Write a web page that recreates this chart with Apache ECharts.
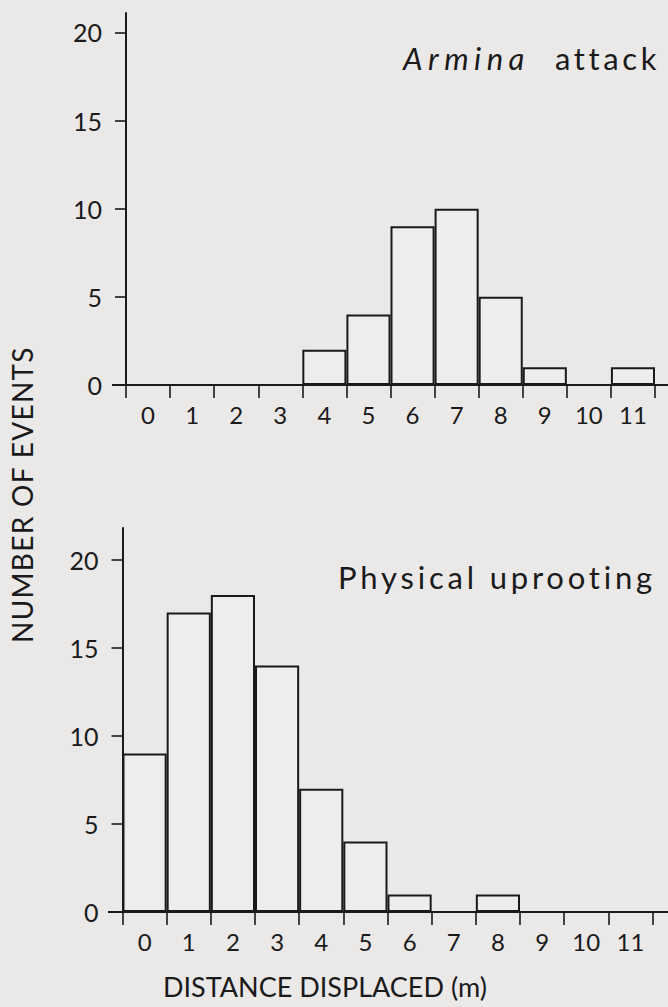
<!DOCTYPE html>
<html>
<head>
<meta charset="utf-8">
<script src="https://cdn.jsdelivr.net/npm/echarts@6/dist/echarts.min.js"></script>
<style>
  html, body { margin: 0; padding: 0; background: #ebe8e8; }
  #chart { width: 668px; height: 1007px; }
</style>
</head>
<body>
<div id="chart"></div>
<script>
// Distance classes (m) along the horizontal axis
const categories = ['0', '1', '2', '3', '4', '5', '6', '7', '8', '9', '10', '11'];
// Number of events per distance class
const arminaCounts = [0, 0, 0, 0, 2, 4, 9, 10, 5, 1, 0, 1];
const uprootingCounts = [9, 17, 18, 14, 7, 4, 1, 0, 1, 0, 0, 0];
// Labelled ticks on the count axes
const yTicks = [0, 5, 10, 15, 20];

const FONT = 'Lato';
const INK = '#1a1a1a';

const chart = echarts.init(document.getElementById('chart'), null, { renderer: 'svg' });

function xAxisFor(gridIndex) {
  return {
    type: 'category',
    gridIndex,
    data: categories,
    boundaryGap: true,
    offset: 5,
    axisLine: { show: false },
    axisTick: { show: true, interval: 0, length: 13, lineStyle: { color: INK, width: 1.6 } },
    axisLabel: { interval: 0, margin: 12, color: INK, fontFamily: FONT, fontSize: 24 },
    splitLine: { show: false }
  };
}

function yAxisFor(gridIndex, max) {
  return {
    type: 'value',
    gridIndex,
    min: 0,
    max,
    axisLine: { show: true, lineStyle: { color: INK, width: 2 } },
    axisTick: { show: true, length: 11, customValues: yTicks, lineStyle: { color: INK, width: 1.6 } },
    axisLabel: { customValues: yTicks, margin: 24, color: INK, fontFamily: FONT, fontSize: 25 },
    splitLine: { show: false }
  };
}

function barsFor(index, data) {
  return {
    type: 'bar',
    xAxisIndex: index,
    yAxisIndex: index,
    data,
    barCategoryGap: '0%',
    itemStyle: { color: '#efecec', borderColor: INK, borderWidth: 2 },
    silent: true
  };
}

chart.setOption({
  backgroundColor: '#ebe8e8',
  animation: false,
  grid: [
    { left: 126, width: 529, top: 13, height: 372 },
    { left: 122.5, width: 530, top: 528, height: 384 }
  ],
  xAxis: [xAxisFor(0), xAxisFor(1)],
  yAxis: [yAxisFor(0, 21.1), yAxisFor(1, 21.8)],
  series: [barsFor(0, arminaCounts), barsFor(1, uprootingCounts)]
});

// Baselines run past both ends of the plotted classes
const base0 = chart.convertToPixel({ yAxisIndex: 0 }, 0);
const base1 = chart.convertToPixel({ yAxisIndex: 1 }, 0);

function label(text, x, y, extra) {
  return {
    type: 'text', x, y, silent: true,
    rotation: extra.rotation || 0,
    style: {
      text, align: 'left', verticalAlign: 'middle',
      fill: INK, fontFamily: FONT, fontSize: extra.fontSize,
      fontStyle: extra.fontStyle || 'normal'
    }
  };
}

chart.setOption({
  graphic: [
    { type: 'line', silent: true, shape: { x1: 112, y1: base0, x2: 668, y2: base0 }, style: { stroke: INK, lineWidth: 2 } },
    { type: 'line', silent: true, shape: { x1: 108, y1: base1, x2: 668, y2: base1 }, style: { stroke: INK, lineWidth: 2 } },
    label('Armina', 403, 58, { fontSize: 31, fontStyle: 'italic' }),
    label('attack', 555, 58, { fontSize: 31 }),
    label('Physical uprooting', 338, 577, { fontSize: 31 }),
    label('NUMBER OF EVENTS', 22, 643, { fontSize: 28, rotation: Math.PI / 2 }),
    label('DISTANCE DISPLACED (m)', 163, 986, { fontSize: 27 })
  ]
});

// Hand-lettered titles are widely tracked
const tracking = {
  'Armina': 5.5,
  'attack': 3.6,
  'Physical uprooting': 3.8,
  'NUMBER OF EVENTS': 1.3,
  'DISTANCE DISPLACED (m)': 0
};
function applyTracking() {
  document.querySelectorAll('#chart text').forEach(function (t) {
    const s = tracking[t.textContent];
    if (s !== undefined) t.setAttribute('letter-spacing', s + 'px');
  });
}
applyTracking();
chart.on('finished', applyTracking);
</script>
</body>
</html>
